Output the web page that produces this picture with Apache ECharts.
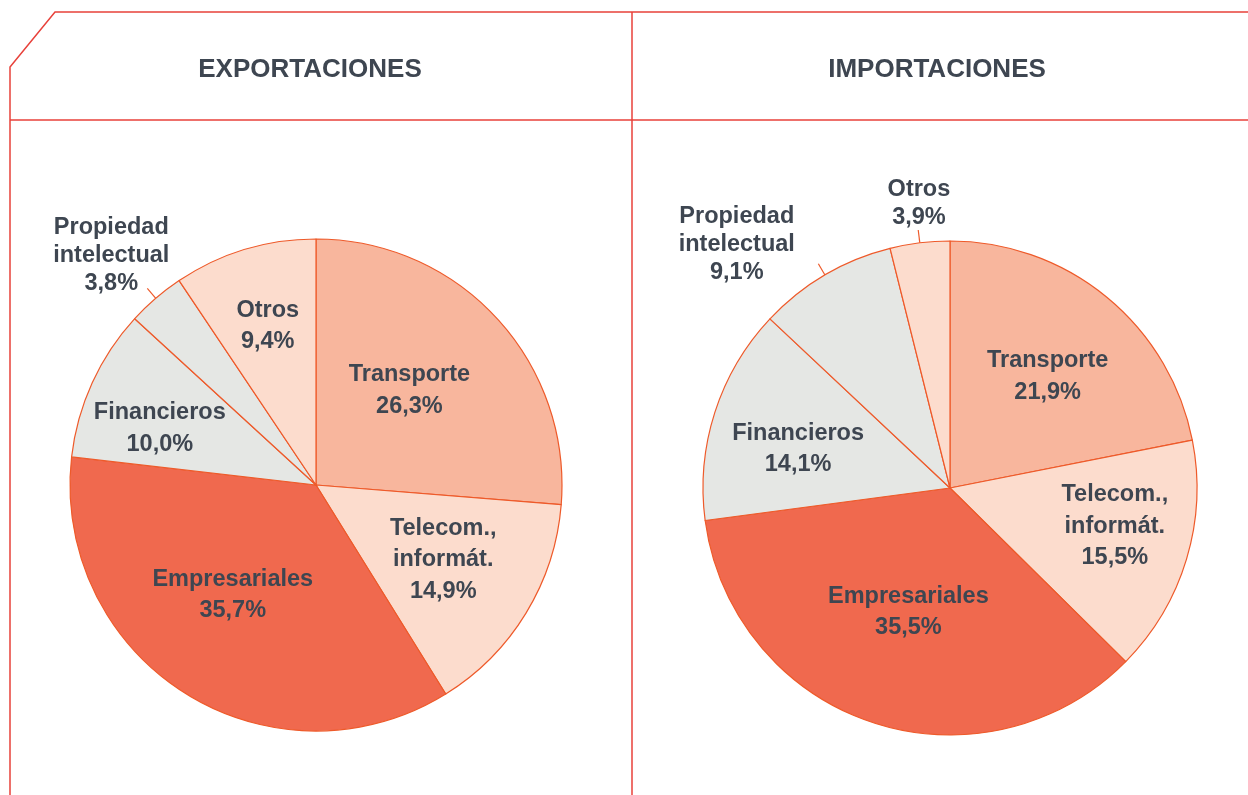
<!DOCTYPE html>
<html><head><meta charset="utf-8">
<script src="https://cdn.jsdelivr.net/npm/echarts@6/dist/echarts.min.js"></script>
<style>html,body{margin:0;padding:0;background:#fff}#c{width:1248px;height:795px}</style>
</head><body><div id="c"></div>
<script>
// ---- data ----
const categories = ['Transporte', 'Telecom.,\ninformát.', 'Empresariales', 'Financieros', 'Propiedad\nintelectual', 'Otros'];
const exportValues = [26.3, 14.9, 35.7, 10.0, 3.8, 9.4];
const importValues = [21.9, 15.5, 35.5, 14.1, 9.1, 3.9];
const panelTitles = ['EXPORTACIONES', 'IMPORTACIONES'];

// ---- style / layout ----
const sliceColors = ['#F8B69D', '#FCDCCD', '#F0694E', '#E5E7E4', '#E5E7E4', '#FCDCCD'];
const pieCenters = [[316, 485], [950, 488]];
const pieRadii = [246, 247];
const outsideItems = [[4], [4, 5]];
const labelFrac = [[0.54, 0.60, 0.56, 0.675, 1.25, 0.675], [0.60, 0.685, 0.53, 0.635, 1.31, 1.16]];
const labelRot = [[-2.6, -0.9, 4.8, -4.7, -1.1, 0], [1.8, -3.7, 0, -3.4, -10.8, 0.8]];
const textColor = '#3E4651';
const edgeColor = '#EE5A2A';
const frameColor = '#E8413A';
const fontFam = '"Liberation Sans", Arial, Helvetica, sans-serif';

function fmt(v) { return v.toFixed(1).replace('.', ',') + '%'; }

function labelLayoutFn(p) {
  const si = p.seriesIndex, i = p.dataIndex;
  const c = pieCenters[si], r = pieRadii[si];
  const outside = outsideItems[si].indexOf(i) >= 0;
  let ux, uy;
  if (outside && p.labelLinePoints && p.labelLinePoints.length) {
    ux = p.labelLinePoints[0][0] - c[0]; uy = p.labelLinePoints[0][1] - c[1];
  } else {
    const lr = p.labelRect;
    ux = lr.x + lr.width / 2 - c[0]; uy = lr.y + lr.height / 2 - c[1];
  }
  const th0 = Math.atan2(ux, -uy);
  const th = th0 + labelRot[si][i] * Math.PI / 180;
  const f = labelFrac[si][i];
  const res = { x: c[0] + f * r * Math.sin(th), y: c[1] - f * r * Math.cos(th), align: 'center', verticalAlign: 'middle' };
  if (outside) {
    const ex = c[0] + r * Math.sin(th0), ey = c[1] - r * Math.cos(th0);
    res.labelLinePoints = [[ex, ey], [ex + 13 * Math.sin(th0), ey - 13 * Math.cos(th0)]];
  }
  return res;
}

function makeSeries(si, values) {
  return {
    type: 'pie',
    center: pieCenters[si],
    radius: pieRadii[si],
    startAngle: 90,
    clockwise: true,
    avoidLabelOverlap: false,
    silent: true,
    itemStyle: { borderColor: edgeColor, borderWidth: 1.2 },
    label: {
      show: true, position: 'inside', color: textColor, fontFamily: fontFam,
      fontWeight: 'bold', fontSize: 23.5, lineHeight: 31.5, align: 'center',
      formatter: p => p.name + '\n' + fmt(p.value)
    },
    labelLine: { show: false },
    labelLayout: labelLayoutFn,
    data: values.map((v, i) => {
      const outside = outsideItems[si].indexOf(i) >= 0;
      const d = { name: categories[i], value: v, itemStyle: { color: sliceColors[i] } };
      if (outside) {
        d.label = { position: 'outside', lineHeight: 28 };
        d.labelLine = { show: true, length: 13, length2: 0, lineStyle: { color: edgeColor, width: 1.2 } };
      }
      return d;
    })
  };
}

const chart = echarts.init(document.getElementById('c'));
chart.setOption({
  animation: false,
  backgroundColor: '#ffffff',
  graphic: [
    { type: 'polyline', shape: { points: [[10, 795], [10, 67], [55, 12], [1248, 12]] }, style: { stroke: frameColor, lineWidth: 1.5, fill: null } },
    { type: 'line', shape: { x1: 10, y1: 120, x2: 1248, y2: 120 }, style: { stroke: frameColor, lineWidth: 1.5 } },
    { type: 'line', shape: { x1: 632, y1: 12, x2: 632, y2: 795 }, style: { stroke: frameColor, lineWidth: 1.5 } },
    { type: 'text', style: { text: panelTitles[0], x: 310, y: 70, textAlign: 'center', textVerticalAlign: 'middle', fill: textColor, font: 'bold 26px ' + fontFam } },
    { type: 'text', style: { text: panelTitles[1], x: 937, y: 70, textAlign: 'center', textVerticalAlign: 'middle', fill: textColor, font: 'bold 26px ' + fontFam } }
  ],
  series: [makeSeries(0, exportValues), makeSeries(1, importValues)]
});
</script>
</body></html>
